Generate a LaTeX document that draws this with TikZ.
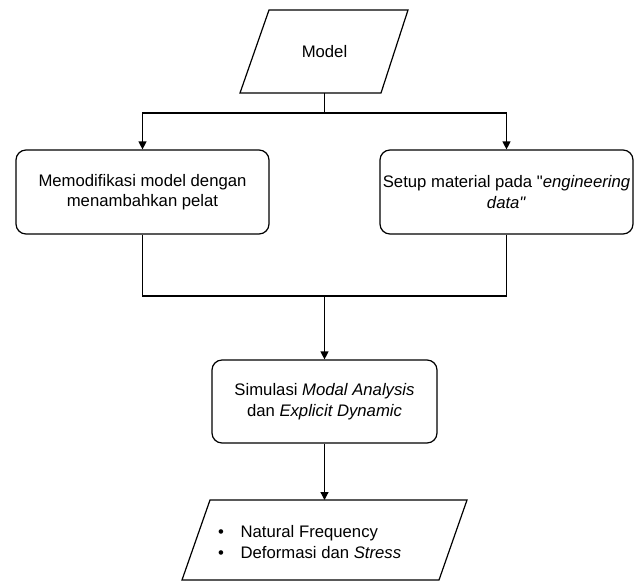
\documentclass[tikz,border=0pt]{standalone}
\usepackage{fontspec}
\setmainfont{Liberation Sans}
\usetikzlibrary{arrows.meta}
\newcommand{\dq}{\XeTeXglyph\XeTeXcharglyph"0022\relax}
\begin{document}
\begin{tikzpicture}[x=1pt,y=-1pt,
  line width=1.2pt,
  every node/.style={font=\fontsize{16.7}{20.5}\selectfont, align=center, inner sep=0pt},
  conn/.style={-{Triangle[length=8pt,width=8pt]}},
  rbox/.style={draw, rounded corners=10pt, minimum width=253pt, minimum height=84pt},
]
\useasboundingbox (0,0) rectangle (639,582);
% top parallelogram
\draw (269,10) -- (408,10) -- (381,93) -- (240,93) -- cycle;
\node (model) at (324.5,51.5) {Model};
\coordinate (modelb) at (324.5,93);
\coordinate (j1) at (324.5,113);
% boxes
\node[rbox] (left) at (142.5,192) {Memodifikasi model dengan\\menambahkan pelat};
\node[rbox] (right) at (506.5,192) {Setup material pada \dq\textit{engineering}\\\textit{data\dq}};
\node[rbox, minimum width=225pt, minimum height=83pt] (mid) at (324.5,401.5) {Simulasi \textit{Modal Analysis}\\dan \textit{Explicit Dynamic}};
\coordinate (j2) at (324.5,296);
% bottom parallelogram
\draw (210,500) -- (467,500) -- (439,580) -- (182,580) -- cycle;
\coordinate (outt) at (324.5,500);
\node[anchor=west, align=left] (out) at (217.5,542) {\makebox[22.5pt][l]{\textbullet}Natural Frequency\\\makebox[22.5pt][l]{\textbullet}Deformasi dan \textit{Stress}};
% connectors
\draw (modelb) -- (j1);
\draw[conn] (j1) -| (left.north);
\draw[conn] (j1) -| (right.north);
\draw (left.south) |- (j2);
\draw (right.south) |- (j2);
\draw[conn] (j2) -- (mid.north);
\draw[conn] (mid.south) -- (outt);
\end{tikzpicture}
\end{document}
